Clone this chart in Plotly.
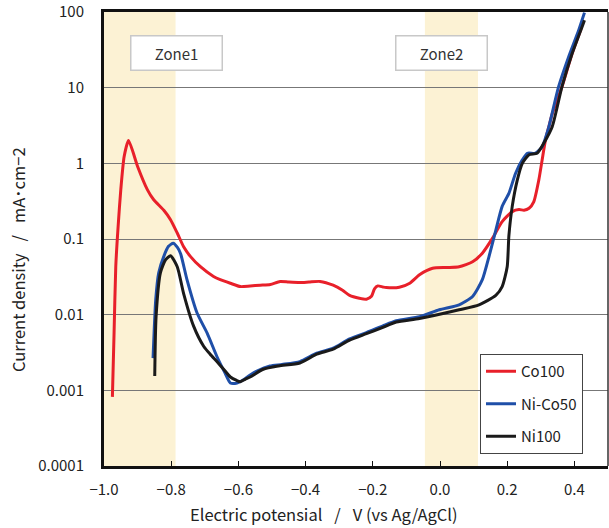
import plotly.graph_objects as go

# ---- data ----
co100_x = [-0.975, -0.970, -0.965, -0.958, -0.950, -0.940, -0.927, -0.900, -0.871, -0.852,
           -0.822, -0.802, -0.782, -0.763, -0.743, -0.713, -0.674, -0.654, -0.624, -0.594,
           -0.565, -0.535, -0.505, -0.476, -0.450, -0.417, -0.390, -0.357, -0.318, -0.290,
           -0.269, -0.240, -0.219, -0.204, -0.195, -0.185, -0.170, -0.160, -0.121, -0.090,
           -0.061, -0.022, 0.020, 0.057, 0.097, 0.126, 0.156, 0.185, 0.215, 0.235,
           0.250, 0.265, 0.279, 0.294, 0.304, 0.314, 0.324, 0.334, 0.363, 0.393, 0.420]
co100_y = [0.00082, 0.0058, 0.043, 0.146, 0.45, 1.23, 2.0, 0.91, 0.45, 0.33,
           0.24, 0.18, 0.12, 0.079, 0.059, 0.043, 0.032, 0.029, 0.026, 0.0235,
           0.024, 0.0245, 0.025, 0.0275, 0.027, 0.0266, 0.027, 0.0275, 0.0245, 0.021,
           0.018, 0.0165, 0.016, 0.0175, 0.022, 0.024, 0.0232, 0.0228, 0.023, 0.026,
           0.0336, 0.041, 0.042, 0.043, 0.050, 0.065, 0.102, 0.17, 0.23, 0.245,
           0.24, 0.255, 0.31, 0.60, 1.11, 2.04, 3.05, 4.5, 10.3, 28, 60]

nico50_x = [-0.854, -0.846, -0.837, -0.822, -0.808, -0.794, -0.782, -0.772, -0.753, -0.723,
            -0.693, -0.664, -0.640, -0.624, -0.604, -0.585, -0.565, -0.545, -0.506, -0.470,
            -0.417, -0.367, -0.318, -0.269, -0.219, -0.170, -0.130, -0.061, -0.002, 0.057,
            0.097, 0.126, 0.146, 0.166, 0.185, 0.205, 0.225, 0.245, 0.260, 0.284,
            0.304, 0.324, 0.353, 0.383, 0.413, 0.430]
nico50_y = [0.00266, 0.0158, 0.036, 0.059, 0.080, 0.088, 0.078, 0.064, 0.029, 0.0105,
            0.0057, 0.0028, 0.0017, 0.00125, 0.00125, 0.00138, 0.0016, 0.0018, 0.0021, 0.0022,
            0.0024, 0.0031, 0.0036, 0.0048, 0.0058, 0.0071, 0.0083, 0.0094, 0.0116, 0.0135,
            0.0174, 0.029, 0.059, 0.13, 0.27, 0.40, 0.74, 1.11, 1.36, 1.36,
            1.66, 3.05, 10.3, 25.7, 58, 98]

ni100_x = [-0.849, -0.845, -0.832, -0.817, -0.802, -0.782, -0.763, -0.733, -0.703, -0.684,
           -0.664, -0.644, -0.624, -0.605, -0.594, -0.580, -0.565, -0.526, -0.480, -0.417,
           -0.367, -0.318, -0.269, -0.219, -0.170, -0.130, -0.061, 0.057, 0.116, 0.166,
           0.185, 0.200, 0.205, 0.215, 0.230, 0.245, 0.265, 0.289, 0.309, 0.334,
           0.363, 0.393, 0.423, 0.430]
ni100_y = [0.00155, 0.0094, 0.036, 0.053, 0.060, 0.043, 0.019, 0.0070, 0.0038, 0.0030,
           0.0024, 0.0019, 0.0015, 0.00135, 0.0013, 0.0014, 0.0015, 0.0019, 0.0021, 0.0023,
           0.0030, 0.0035, 0.0046, 0.0056, 0.0068, 0.0080, 0.0089, 0.0116, 0.0135, 0.018,
           0.0235, 0.043, 0.11, 0.27, 0.60, 1.0, 1.3, 1.36, 1.85, 3.05,
           10.3, 28, 64, 78]

series_names = ["Co100", "Ni-Co50", "Ni100"]
series_colors = ["#e8202a", "#1f4fa8", "#1a1a1a"]

zones = [("Zone1", -1.0, -0.787), ("Zone2", -0.045, 0.113)]

x_ticks = [-1.0, -0.8, -0.6, -0.4, -0.2, 0.0, 0.2, 0.4]
y_ticks = [0.0001, 0.001, 0.01, 0.1, 1, 10, 100]
y_ticktext = ["0.0001", "0.001", "0.01", "0.1", "1", "10", "100"]

SP = "\u2002\u00a0"
x_title = f"Electric potensial{SP}/{SP}V (vs Ag/AgCl)"
y_title = f"Current density{SP}/{SP}mA･cm−2"

FONT = "Noto Sans CJK JP"

fig = go.Figure()
for name, color, xs, ys in zip(series_names, series_colors,
                               [co100_x, nico50_x, ni100_x],
                               [co100_y, nico50_y, ni100_y]):
    fig.add_trace(go.Scatter(x=xs, y=ys, mode="lines", name=name, legendgroup=name,
                             line=dict(color=color, width=3, shape="spline", smoothing=0.6)))

shapes = []
for label, x0, x1 in zones:
    shapes.append(dict(type="rect", xref="x", yref="paper", x0=x0, x1=x1, y0=0, y1=1,
                       fillcolor="#fcf2d4", line=dict(width=0), layer="below"))
shapes.append(dict(type="line", xref="paper", yref="paper", x0=1, x1=1, y0=0, y1=1,
                   line=dict(color="#333", width=1.5)))

annotations = []
zone_box_centers = [(176, 53.5), (441.5, 53.5)]
L, R, T, B, W, H = 104, 1, 12, 62, 609, 528
pw, ph = W - L - R, H - T - B
for (label, x0, x1), (cx, cy) in zip(zones, zone_box_centers):
    annotations.append(dict(text=label, xref="paper", yref="paper",
                            x=(cx - L) / pw, y=(H - B - cy) / ph,
                            showarrow=False, font=dict(family=FONT, size=15, color="#333"),
                            bgcolor="white", bordercolor="#c8c8c8", borderwidth=1.5,
                            borderpad=2, width=86, height=29,
                            xanchor="center", yanchor="middle"))
annotations.append(dict(text=x_title, xref="paper", yref="paper",
                        x=(324 - L) / pw, y=(H - B - 514) / ph, showarrow=False,
                        font=dict(family=FONT, size=16.5, color="#222"),
                        xanchor="center", yanchor="middle"))
annotations.append(dict(text=y_title, xref="paper", yref="paper",
                        x=(18 - L) / pw, y=(H - B - 260) / ph, showarrow=False, textangle=-90,
                        font=dict(family=FONT, size=16.5, color="#222"),
                        xanchor="center", yanchor="middle"))

fig.update_layout(
    width=W, height=H,
    margin=dict(l=L, r=R, t=T, b=B),
    paper_bgcolor="white", plot_bgcolor="white",
    font=dict(family=FONT, size=14, color="#222"),
    shapes=shapes, annotations=annotations,
    showlegend=True,
    legend=dict(x=(480 - L) / pw, y=(H - B - 354) / ph, xanchor="left", yanchor="top",
                bgcolor="white", bordercolor="#444", borderwidth=1,
                font=dict(family=FONT, size=15, color="#222"),
                tracegroupgap=10, itemwidth=30),
)
fig.update_xaxes(range=[-1.0, 0.5], tickvals=x_ticks, ticktext=[f"{v:.1f}".replace("-", "−") for v in x_ticks],
                 showgrid=False, zeroline=False, showline=True, linecolor="#111", linewidth=3,
                 mirror=True, ticks="inside", ticklen=5, tickcolor="#111", tickwidth=1,
                 ticklabelstandoff=8, tickfont=dict(family=FONT, size=15, color="#222"))
fig.update_yaxes(type="log", range=[-4, 2], tickvals=y_ticks, ticktext=y_ticktext,
                 showgrid=True, gridcolor="#777", gridwidth=1.2, zeroline=False,
                 showline=True, linecolor="#111", linewidth=3, ticks="",
                 ticklabelstandoff=14, tickfont=dict(family=FONT, size=15, color="#222"))

fig.write_html("out.html")
